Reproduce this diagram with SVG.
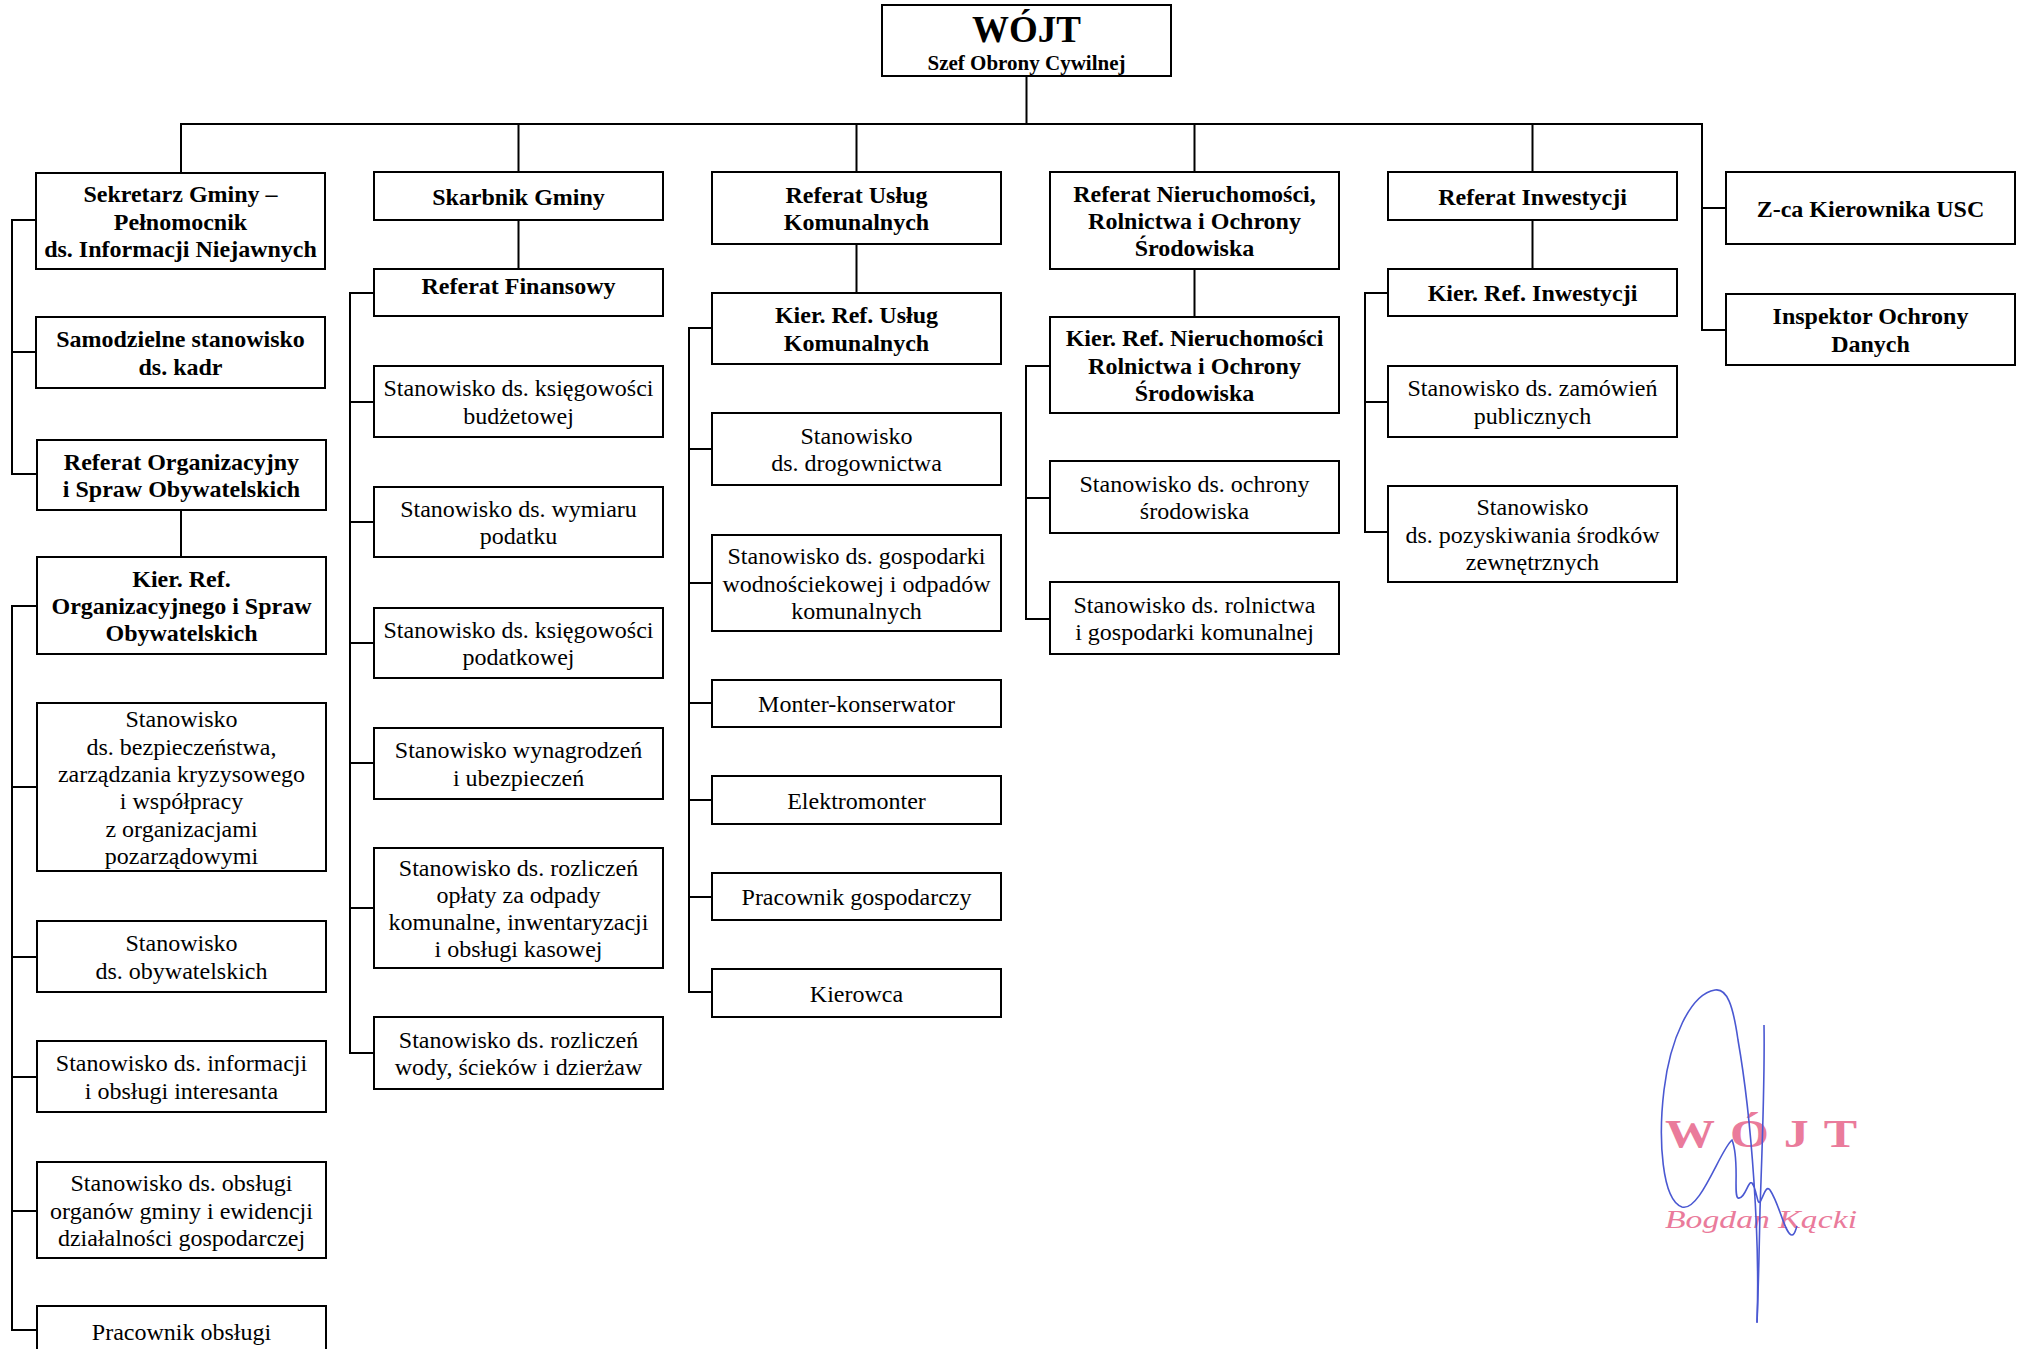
<svg xmlns="http://www.w3.org/2000/svg" width="2018" height="1349" viewBox="0 0 2018 1349">
<style>
.box{fill:#fff;stroke:#000;stroke-width:2}
.con{fill:none;stroke:#000;stroke-width:2}
text{font-family:"Liberation Serif","Times New Roman",serif;font-size:24px;text-anchor:middle;fill:#000}
.b{font-weight:bold}
</style>
<rect width="2018" height="1349" fill="#fff"/>
<g id="connectors">
<path class="con" d="M1026.5 76V124"/>
<path class="con" d="M181 173V124H1702V330H1726M1702 208H1726"/>
<path class="con" d="M518.5 124V172M856.5 124V172M1194.5 124V172M1532.5 124V172"/>
<path class="con" d="M36 220H12V474H37M12 352H36M181 510V557"/>
<path class="con" d="M37 606H12V1330H37M12 787H37M12 957H37M12 1077H37M12 1211H37"/>
<path class="con" d="M518.5 220V269M374 293H350V1053H374M350 402H374M350 522H374M350 643H374M350 763H374M350 908H374"/>
<path class="con" d="M856.5 244V293M712 328H689V992H712M689 449H712M689 583H712M689 703H712M689 800H712M689 897H712"/>
<path class="con" d="M1194.5 269V317M1050 366H1026V619H1050M1026 498H1050"/>
<path class="con" d="M1532.5 220V269M1388 293H1365V532H1388M1365 402H1388"/>
</g>
<g id="wojt"><rect class="box" x="882" y="5" width="289" height="71"/><text class="b" x="1026.5" y="42" style="font-size:37px">WÓJT</text><text class="b" x="1026.5" y="70" style="font-size:21px">Szef Obrony Cywilnej</text></g>

<g id="sekretarz"><rect class="box" x="36" y="173" width="289" height="96"/><text class="b" x="180.5" y="202.2">Sekretarz Gminy –</text><text class="b" x="180.5" y="229.5">Pełnomocnik</text><text class="b" x="180.5" y="256.8">ds. Informacji Niejawnych</text></g>
<g id="kadry"><rect class="box" x="36" y="317" width="289" height="71"/><text class="b" x="180.5" y="347.4">Samodzielne stanowisko</text><text class="b" x="180.5" y="374.7">ds. kadr</text></g>
<g id="ref-org"><rect class="box" x="37" y="440" width="289" height="70"/><text class="b" x="181.5" y="470">Referat Organizacyjny</text><text class="b" x="181.5" y="497">i Spraw Obywatelskich</text></g>
<g id="kier-org"><rect class="box" x="37" y="557" width="289" height="97"/><text class="b" x="181.5" y="586.7">Kier. Ref.</text><text class="b" x="181.5" y="614">Organizacyjnego i Spraw</text><text class="b" x="181.5" y="641.3">Obywatelskich</text></g>
<g id="bezpieczenstwo"><rect class="box" x="37" y="703" width="289" height="168"/><text x="181.5" y="727.3">Stanowisko</text><text x="181.5" y="754.6">ds. bezpieczeństwa,</text><text x="181.5" y="781.9">zarządzania kryzysowego</text><text x="181.5" y="809.2">i współpracy</text><text x="181.5" y="836.5">z organizacjami</text><text x="181.5" y="863.8">pozarządowymi</text></g>
<g id="obywatelskie"><rect class="box" x="37" y="921" width="289" height="71"/><text x="181.5" y="951.4">Stanowisko</text><text x="181.5" y="978.7">ds. obywatelskich</text></g>
<g id="informacja"><rect class="box" x="37" y="1041" width="289" height="71"/><text x="181.5" y="1071.4">Stanowisko ds. informacji</text><text x="181.5" y="1098.7">i obsługi interesanta</text></g>
<g id="organy"><rect class="box" x="37" y="1162" width="289" height="96"/><text x="181.5" y="1191.2">Stanowisko ds. obsługi</text><text x="181.5" y="1218.5">organów gminy i ewidencji</text><text x="181.5" y="1245.8">działalności gospodarczej</text></g>
<g id="pracownik-obslugi"><rect class="box" x="37" y="1306" width="289" height="80"/><text x="181.5" y="1340">Pracownik obsługi</text></g>

<g id="skarbnik"><rect class="box" x="374" y="172" width="289" height="48"/><text class="b" x="518.5" y="204.5">Skarbnik Gminy</text></g>
<g id="ref-fin"><rect class="box" x="374" y="269" width="289" height="47"/><text class="b" x="518.5" y="294">Referat Finansowy</text></g>
<g id="ksieg-budz"><rect class="box" x="374" y="366" width="289" height="71"/><text x="518.5" y="396.4">Stanowisko ds. księgowości</text><text x="518.5" y="423.7">budżetowej</text></g>
<g id="wymiar"><rect class="box" x="374" y="487" width="289" height="70"/><text x="518.5" y="516.9">Stanowisko ds. wymiaru</text><text x="518.5" y="544.2">podatku</text></g>
<g id="ksieg-pod"><rect class="box" x="374" y="608" width="289" height="70"/><text x="518.5" y="637.9">Stanowisko ds. księgowości</text><text x="518.5" y="665.2">podatkowej</text></g>
<g id="wynagrodzenia"><rect class="box" x="374" y="728" width="289" height="71"/><text x="518.5" y="758.4">Stanowisko wynagrodzeń</text><text x="518.5" y="785.7">i ubezpieczeń</text></g>
<g id="odpady"><rect class="box" x="374" y="848" width="289" height="120"/><text x="518.5" y="875.5">Stanowisko ds. rozliczeń</text><text x="518.5" y="902.8">opłaty za odpady</text><text x="518.5" y="930.1">komunalne, inwentaryzacji</text><text x="518.5" y="957.4">i obsługi kasowej</text></g>
<g id="woda"><rect class="box" x="374" y="1017" width="289" height="72"/><text x="518.5" y="1047.9">Stanowisko ds. rozliczeń</text><text x="518.5" y="1075.2">wody, ścieków i dzierżaw</text></g>

<g id="ref-uslug"><rect class="box" x="712" y="172" width="289" height="72"/><text class="b" x="856.5" y="202.9">Referat Usług</text><text class="b" x="856.5" y="230.2">Komunalnych</text></g>
<g id="kier-uslug"><rect class="box" x="712" y="293" width="289" height="71"/><text class="b" x="856.5" y="323.4">Kier. Ref. Usług</text><text class="b" x="856.5" y="350.7">Komunalnych</text></g>
<g id="drogownictwo"><rect class="box" x="712" y="413" width="289" height="72"/><text x="856.5" y="443.9">Stanowisko</text><text x="856.5" y="471.2">ds. drogownictwa</text></g>
<g id="gospodarka-wodna"><rect class="box" x="712" y="535" width="289" height="96"/><text x="856.5" y="564.2">Stanowisko ds. gospodarki</text><text x="856.5" y="591.5">wodnościekowej i odpadów</text><text x="856.5" y="618.8">komunalnych</text></g>
<g id="monter"><rect class="box" x="712" y="680" width="289" height="47"/><text x="856.5" y="712">Monter-konserwator</text></g>
<g id="elektromonter"><rect class="box" x="712" y="776" width="289" height="48"/><text x="856.5" y="808.5">Elektromonter</text></g>
<g id="pracownik-gosp"><rect class="box" x="712" y="873" width="289" height="47"/><text x="856.5" y="905">Pracownik gospodarczy</text></g>
<g id="kierowca"><rect class="box" x="712" y="969" width="289" height="48"/><text x="856.5" y="1001.5">Kierowca</text></g>

<g id="ref-nier"><rect class="box" x="1050" y="172" width="289" height="97"/><text class="b" x="1194.5" y="201.7">Referat Nieruchomości,</text><text class="b" x="1194.5" y="229">Rolnictwa i Ochrony</text><text class="b" x="1194.5" y="256.3">Środowiska</text></g>
<g id="kier-nier"><rect class="box" x="1050" y="317" width="289" height="96"/><text class="b" x="1194.5" y="346.2">Kier. Ref. Nieruchomości</text><text class="b" x="1194.5" y="373.5">Rolnictwa i Ochrony</text><text class="b" x="1194.5" y="400.8">Środowiska</text></g>
<g id="ochrona"><rect class="box" x="1050" y="461" width="289" height="72"/><text x="1194.5" y="491.9">Stanowisko ds. ochrony</text><text x="1194.5" y="519.2">środowiska</text></g>
<g id="rolnictwo"><rect class="box" x="1050" y="582" width="289" height="72"/><text x="1194.5" y="612.9">Stanowisko ds. rolnictwa</text><text x="1194.5" y="640.2">i gospodarki komunalnej</text></g>

<g id="ref-inw"><rect class="box" x="1388" y="172" width="289" height="48"/><text class="b" x="1532.5" y="204.5">Referat Inwestycji</text></g>
<g id="kier-inw"><rect class="box" x="1388" y="269" width="289" height="47"/><text class="b" x="1532.5" y="301">Kier. Ref. Inwestycji</text></g>
<g id="zamowienia"><rect class="box" x="1388" y="366" width="289" height="71"/><text x="1532.5" y="396.4">Stanowisko ds. zamówień</text><text x="1532.5" y="423.7">publicznych</text></g>
<g id="srodki"><rect class="box" x="1388" y="486" width="289" height="96"/><text x="1532.5" y="515.2">Stanowisko</text><text x="1532.5" y="542.5">ds. pozyskiwania środków</text><text x="1532.5" y="569.8">zewnętrznych</text></g>

<g id="zca-usc"><rect class="box" x="1726" y="172" width="289" height="72"/><text class="b" x="1870.5" y="216.5">Z-ca Kierownika USC</text></g>
<g id="iod"><rect class="box" x="1726" y="294" width="289" height="71"/><text class="b" x="1870.5" y="324.4">Inspektor Ochrony</text><text class="b" x="1870.5" y="351.7">Danych</text></g>

<g id="signature">
<text transform="translate(1665 1147) scale(1.25 1)" x="0" y="0" style="font-size:40px;font-weight:bold;fill:#ea7b9b;text-anchor:start;letter-spacing:12px">WÓJT</text>
<text x="1761" y="1228" style="font-size:26px;font-style:italic;fill:#ea7b9b" textLength="192" lengthAdjust="spacingAndGlyphs">Bogdan Kącki</text>
<path d="M1757 1322C1760 1240 1752 1120 1738 1040C1733 1005 1727 988 1715 990C1690 994 1670 1040 1664 1090C1658 1140 1662 1200 1682 1207C1700 1212 1720 1150 1732 1140C1740 1160 1733 1195 1738 1198C1745 1200 1748 1180 1752 1183C1757 1190 1757 1205 1760 1202C1764 1195 1766 1185 1770 1190C1780 1205 1785 1235 1792 1235C1795 1235 1796 1228 1797 1226" fill="none" stroke="#4a58d2" stroke-width="1.6"/>
<path d="M1764 1025C1765 1080 1762 1150 1760 1210C1759 1260 1758 1300 1757 1323" fill="none" stroke="#4a58d2" stroke-width="1.6"/>
</g>
</svg>
